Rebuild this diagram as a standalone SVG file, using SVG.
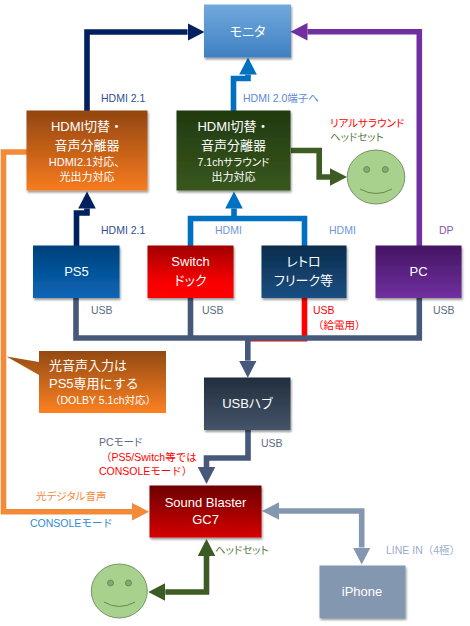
<svg xmlns="http://www.w3.org/2000/svg" width="470" height="626" viewBox="0 0 470 626">
<style>
text{font-family:"Liberation Sans","Noto Sans CJK JP",sans-serif}
.n{font-size:13px;fill:#fff;text-anchor:middle}
.s{font-size:11px;fill:#fff;text-anchor:middle}
.l{font-size:10.500px}
.p{font-feature-settings:"palt"}
.c{fill:none;stroke-width:5.600}
.box{filter:url(#sh)}
.face{fill:#a9d18e;stroke:#5f7f4d;stroke-width:.8}
.eye{fill:#86a972;stroke:#5f7f4d;stroke-width:.8}
.smile{fill:none;stroke:#5f7f4d;stroke-width:.9}
</style>
<defs>
<filter id="sh" x="-10%" y="-10%" width="125%" height="130%"><feDropShadow dx="1" dy="2" stdDeviation="1.2" flood-color="#000" flood-opacity=".4"/></filter>
<linearGradient id="gM" x1="0" y1="0" x2="0" y2="1"><stop offset="0" stop-color="#72a9dd"/><stop offset="1" stop-color="#3f80c2"/></linearGradient>
<linearGradient id="gO" x1="0" y1="0" x2="0" y2="1"><stop offset="0" stop-color="#924610"/><stop offset="1" stop-color="#f77b20"/></linearGradient>
<linearGradient id="gG" x1="0" y1="0" x2="0" y2="1"><stop offset="0" stop-color="#213a0f"/><stop offset="1" stop-color="#38571e"/></linearGradient>
<linearGradient id="gP" x1="0" y1="0" x2="0" y2="1"><stop offset="0" stop-color="#00407a"/><stop offset="1" stop-color="#0a66b8"/></linearGradient>
<linearGradient id="gR" x1="0" y1="0" x2="0" y2="1"><stop offset="0" stop-color="#a00000"/><stop offset=".7" stop-color="#f80000"/><stop offset="1" stop-color="#ff0000"/></linearGradient>
<linearGradient id="gT" x1="0" y1="0" x2="0" y2="1"><stop offset="0" stop-color="#0b2c4c"/><stop offset="1" stop-color="#1a4f82"/></linearGradient>
<linearGradient id="gV" x1="0" y1="0" x2="0" y2="1"><stop offset="0" stop-color="#431562"/><stop offset="1" stop-color="#7030a0"/></linearGradient>
<linearGradient id="gH" x1="0" y1="0" x2="0" y2="1"><stop offset="0" stop-color="#222e3d"/><stop offset="1" stop-color="#44546a"/></linearGradient>
<linearGradient id="gS" x1="0" y1="0" x2="0" y2="1"><stop offset="0" stop-color="#6e0000"/><stop offset="1" stop-color="#d40000"/></linearGradient>
<linearGradient id="gC" x1="0" y1="0" x2="0" y2="1"><stop offset="0" stop-color="#934a12"/><stop offset="1" stop-color="#fc8122"/></linearGradient>
<marker id="aNavy" markerUnits="userSpaceOnUse" markerWidth="18" markerHeight="18" viewBox="0 -9 18 18" refX="0" refY="0" orient="auto-start-reverse"><path d="M0-8.800 17 0 0 8.800z" fill="#002060"/></marker>
<marker id="aBlue" markerUnits="userSpaceOnUse" markerWidth="18" markerHeight="18" viewBox="0 -9 18 18" refX="0" refY="0" orient="auto-start-reverse"><path d="M0-8.800 17 0 0 8.800z" fill="#0070c0"/></marker>
<marker id="aPur" markerUnits="userSpaceOnUse" markerWidth="18" markerHeight="18" viewBox="0 -9 18 18" refX="0" refY="0" orient="auto-start-reverse"><path d="M0-8.800 17 0 0 8.800z" fill="#7030a0"/></marker>
<marker id="aGrn" markerUnits="userSpaceOnUse" markerWidth="18" markerHeight="18" viewBox="0 -9 18 18" refX="0" refY="0" orient="auto-start-reverse"><path d="M0-8.800 17 0 0 8.800z" fill="#3d5c24"/></marker>
<marker id="aOrg" markerUnits="userSpaceOnUse" markerWidth="18" markerHeight="18" viewBox="0 -9 18 18" refX="0" refY="0" orient="auto-start-reverse"><path d="M0-8.800 17 0 0 8.800z" fill="#f28a38"/></marker>
<marker id="aSlt" markerUnits="userSpaceOnUse" markerWidth="18" markerHeight="18" viewBox="0 -9 18 18" refX="0" refY="0" orient="auto-start-reverse"><path d="M0-8.800 17 0 0 8.800z" fill="#47597a"/></marker>
<marker id="aGry" markerUnits="userSpaceOnUse" markerWidth="18" markerHeight="18" viewBox="0 -9 18 18" refX="0" refY="0" orient="auto-start-reverse"><path d="M0-8.800 17 0 0 8.800z" fill="#8497b0"/></marker>
</defs>
<rect width="470" height="626" fill="#fff"/>
<g id="connectors">
<path class="c" stroke="#002060" marker-end="url(#aNavy)" d="M87 111V32H187.500"/>
<path class="c" stroke="#002060" marker-end="url(#aNavy)" d="M76.500 246V213H87V208.500"/>
<path class="c" stroke="#0070c0" d="M190.500 246V218.500H304.500V246"/>
<path class="c" stroke="#0070c0" marker-end="url(#aBlue)" d="M234 218.500V208.500"/>
<path class="c" stroke="#0070c0" marker-end="url(#aBlue)" d="M233.500 111V78.500H248V74.500"/>
<path class="c" stroke="#7030a0" marker-end="url(#aPur)" d="M419.300 246V31.700H307.500"/>
<path class="c" stroke="#3d5c24" marker-end="url(#aGrn)" d="M291 150.500H319.200V177H330"/>
<path class="c" stroke="#f28a38" marker-end="url(#aOrg)" d="M27 152H3.500V511.700H132"/>
<path class="c" stroke="#ff0000" d="M304.500 298V338.700H247"/>
<path class="c" stroke="#47597a" d="M76 298V338H419.300V298M190.500 298V338"/>
<path class="c" stroke="#47597a" marker-end="url(#aSlt)" d="M247.800 338V360.700"/>
<path class="c" stroke="#47597a" marker-end="url(#aSlt)" d="M248 430V458H206.500V467"/>
<path class="c" stroke="#3d5c24" marker-start="url(#aGrn)" marker-end="url(#aGrn)" d="M206.500 556V592H165.300"/>
<path class="c" stroke="#8497b0" marker-start="url(#aGry)" marker-end="url(#aGry)" d="M279 511H361.700V547.500"/>
</g>
<g id="monitor"><rect class="box" x="204" y="4.500" width="87" height="53" fill="url(#gM)"/><text class="n p" x="247.500" y="35.500">モニタ</text></g>
<g id="hdmi-switch-1"><rect class="box" x="26.500" y="110.500" width="121" height="80" fill="url(#gO)"/><text class="n" x="87" y="130.500">HDMI切替・</text><text class="n" x="87" y="149.500">音声分離器</text><text class="s" x="87" y="166">HDMI2.1対応、</text><text class="s" x="87" y="181">光出力対応</text></g>
<g id="hdmi-switch-2"><rect class="box" x="176.500" y="110.500" width="114" height="80" fill="url(#gG)"/><text class="n" x="233.500" y="130.500">HDMI切替・</text><text class="n" x="233.500" y="149.500">音声分離器</text><text class="s p" style="font-size:10.500px" x="233.500" y="166">7.1chサラウンド</text><text class="s" x="233.500" y="181">出力対応</text></g>
<g id="ps5"><rect class="box" x="33" y="245.500" width="86.500" height="52.500" fill="url(#gP)"/><text class="n" x="76.500" y="276">PS5</text></g>
<g id="switch"><rect class="box" x="147.500" y="245.500" width="86" height="52.500" fill="url(#gR)"/><text class="n" x="190.500" y="266">Switch</text><text class="n p" x="190.500" y="285">ドック</text></g>
<g id="retro"><rect class="box" x="261.500" y="245.500" width="85" height="52.500" fill="url(#gT)"/><text class="n p" x="303.500" y="266">レトロ</text><text class="n p" x="303.500" y="285">フリーク等</text></g>
<g id="pc"><rect class="box" x="375.500" y="245.500" width="86" height="52.500" fill="url(#gV)"/><text class="n" x="418.500" y="276">PC</text></g>
<g id="callout"><path d="M39 351H166V413H39V375L6.500 356.500 39 362z" fill="url(#gC)"/><text class="n" style="text-anchor:start" x="49" y="369.500">光音声入力は</text><text class="n" style="text-anchor:start" x="49" y="388">PS5専用にする</text><text class="l" fill="#fff" x="50" y="404">（DOLBY 5.1ch対応）</text></g>
<g id="usb-hub"><rect class="box" x="204" y="377.500" width="86.500" height="52.500" fill="url(#gH)"/><text class="n p" x="247.500" y="408">USBハブ</text></g>
<g id="sound-blaster"><rect class="box" x="149.500" y="485.500" width="112" height="52" fill="url(#gS)"/><text class="n" x="205.500" y="506.500">Sound Blaster</text><text class="n" x="205.500" y="524">GC7</text></g>
<g id="iphone"><rect class="box" x="319.500" y="565.500" width="86" height="52.500" fill="#8497b0"/><text class="n" x="362" y="596">iPhone</text></g>
<g id="face-1"><ellipse class="face" cx="376" cy="177" rx="28.800" ry="27"/><circle class="eye" cx="366.700" cy="169.500" r="3"/><circle class="eye" cx="385.300" cy="169.500" r="3"/><path class="smile" d="M360 189Q376 198 392 189"/></g>
<g id="face-2"><ellipse class="face" cx="119.300" cy="591" rx="28" ry="27"/><circle class="eye" cx="110.500" cy="583" r="3"/><circle class="eye" cx="128.500" cy="583" r="3"/><path class="smile" d="M104 602Q119 611 135 602"/></g>
<g id="labels" class="l">
<text x="101" y="102" fill="#2f5090">HDMI 2.1</text>
<text x="243" y="102" fill="#5b87d4">HDMI 2.0端子へ</text>
<text class="p" x="330" y="127" fill="#ff0000">リアルサラウンド</text>
<text class="p" x="330" y="141" fill="#5a7a45">ヘッドセット</text>
<text x="101" y="234" fill="#2f5090">HDMI 2.1</text>
<text x="215" y="234" fill="#6f96dc">HDMI</text>
<text x="329" y="234" fill="#6f96dc">HDMI</text>
<text x="439" y="234" fill="#8a55b8">DP</text>
<text x="91" y="314" fill="#5a6a85">USB</text>
<text x="202" y="314" fill="#5a6a85">USB</text>
<text x="313" y="314" fill="#ff0000">USB</text>
<text x="313" y="329" fill="#ff0000">（給電用）</text>
<text x="433" y="314" fill="#5a6a85">USB</text>
<text x="261" y="447" fill="#5a6a85">USB</text>
<text class="p" x="99" y="446" fill="#5a6a85">PCモード</text>
<text x="101" y="461" fill="#ff0000">（PS5/Switch等では</text>
<text x="99" y="475" fill="#ff0000">CONSOLEモード）</text>
<text class="p" x="36" y="500" fill="#f28a38">光デジタル音声</text>
<text x="30" y="527" fill="#2e8bd6">CONSOLEモード</text>
<text class="p" x="215" y="554" fill="#5a7a45">ヘッドセット</text>
<text x="386" y="554" fill="#9aaccb">LINE IN（4極）</text>
</g>
</svg>
